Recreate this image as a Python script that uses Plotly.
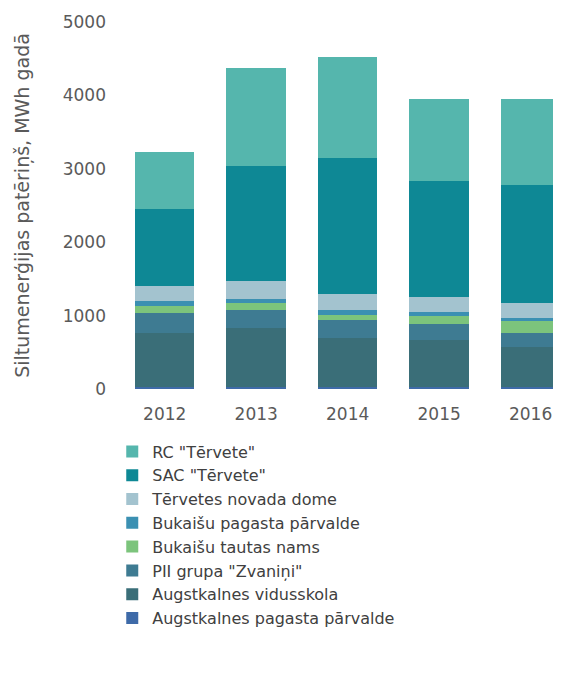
import plotly.graph_objects as go

years = ["2012", "2013", "2014", "2015", "2016"]

# stacking order: bottom -> top
augst_pag_parvalde = [30, 30, 30, 30, 30]
augst_vidusskola = [735, 800, 670, 640, 545]
pii_zvanini = [272, 245, 245, 220, 187]
bukaisu_tautas_nams = [100, 90, 70, 105, 158]
bukaisu_pag_parvalde = [68, 55, 68, 50, 45]
tervetes_dome = [195, 250, 205, 215, 205]
sac_tervete = [1050, 1565, 1865, 1580, 1610]
rc_tervete = [776, 1340, 1375, 1105, 1170]

series_names = [
    "Augstkalnes pagasta pārvalde",
    "Augstkalnes vidusskola",
    "PII grupa \"Zvaniņi\"",
    "Bukaišu tautas nams",
    "Bukaišu pagasta pārvalde",
    "Tērvetes novada dome",
    "SAC \"Tērvete\"",
    "RC \"Tērvete\"",
]
series_values = [
    augst_pag_parvalde, augst_vidusskola, pii_zvanini, bukaisu_tautas_nams,
    bukaisu_pag_parvalde, tervetes_dome, sac_tervete, rc_tervete,
]
series_colors = [
    "#3e6aa8", "#3a6e78", "#3e7b92", "#7cc47c",
    "#3b90b2", "#a3c3cf", "#0e8895", "#55b6ad",
]

y_ticks = [0, 1000, 2000, 3000, 4000, 5000]

FONT = "DejaVu Sans"
GRAY = "#5a5a5a"

fig = go.Figure()
for name, vals, col in zip(series_names, series_values, series_colors):
    fig.add_trace(go.Bar(x=years, y=vals, name=name, marker=dict(color=col, line=dict(width=0)), width=0.65))

fig.update_layout(
    barmode="stack",
    width=561, height=684,
    margin=dict(l=111, r=0, t=14, b=303),
    paper_bgcolor="white", plot_bgcolor="white",
    font=dict(family=FONT, color=GRAY),
    showlegend=True,
    legend=dict(
        traceorder="reversed",
        orientation="v",
        x=-0.015, xanchor="left",
        y=-0.124, yanchor="top",
        font=dict(size=16, color="#404040", family=FONT),
        itemwidth=30,
        bgcolor="rgba(0,0,0,0)",
    ),
    xaxis=dict(
        type="category",
        range=[-0.5, 4.42],
        showgrid=False, showline=False, zeroline=False,
        tickfont=dict(size=17, color=GRAY, family=FONT),
        ticklabelstandoff=13,
    ),
    yaxis=dict(
        range=[0, 5000],
        tickvals=y_ticks,
        showgrid=False, showline=False, zeroline=False,
        tickfont=dict(size=17, color=GRAY, family=FONT),
        ticklabelstandoff=12,
        title=dict(text="Siltumenerģijas patēriņš, MWh gadā", font=dict(size=19, color=GRAY, family=FONT), standoff=28),
        automargin=False,
    ),
)

fig.write_html("out.html")
